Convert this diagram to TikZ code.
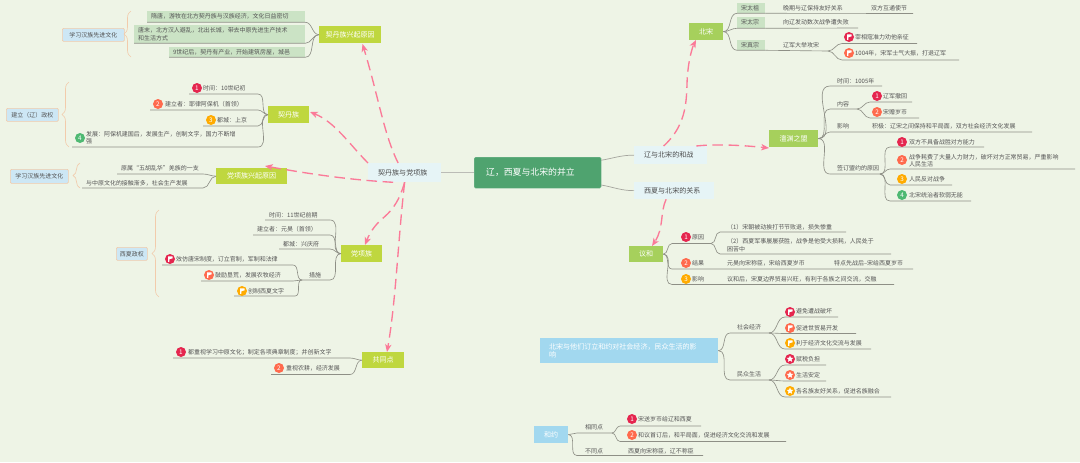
\documentclass[tikz,border=0pt]{standalone}
\usepackage{fontspec}
\setmainfont{Noto Sans CJK SC}
\usetikzlibrary{arrows.meta,decorations.pathreplacing,shapes.geometric}
\definecolor{paper}{HTML}{EEF4E6}
\definecolor{rootgreen}{HTML}{4FA36F}
\definecolor{limebar}{HTML}{BFD73F}
\definecolor{leafbar}{HTML}{A6D05C}
\definecolor{skybar}{HTML}{A2D8EF}
\definecolor{palebar}{HTML}{E6F4F6}
\definecolor{tagbar}{HTML}{CBE3C5}
\definecolor{notefill}{HTML}{CDE7F5}
\definecolor{peach}{HTML}{F2CBAB}
\definecolor{stem}{HTML}{8E8F86}
\definecolor{inkgrey}{HTML}{555555}
\definecolor{dashpink}{HTML}{FB7A98}
\definecolor{dotred}{HTML}{E5264F}
\definecolor{dotcoral}{HTML}{FF6A4D}
\definecolor{dotamber}{HTML}{FFAB00}
\definecolor{dotgreen}{HTML}{4FB973}
\def\pu{0.5mm}
\tikzset{
  leaf/.style={anchor=west,inner sep=0pt,align=left,text=inkgrey,font=\fontsize{8.5}{10.5}\selectfont},
  tagbox/.style={anchor=north west,fill=tagbar,inner xsep=4*\pu,inner ysep=0pt,align=left,text=inkgrey,font=\fontsize{8.5}{10.5}\selectfont},
  topicbox/.style={anchor=north west,inner sep=0pt,align=center,text=white,font=\fontsize{10}{12}\selectfont},
  palebox/.style={anchor=north west,fill=palebar,inner xsep=10*\pu,inner ysep=0pt,align=left,text=black!70,font=\fontsize{10}{12}\selectfont},
  notebox/.style={anchor=north west,fill=notefill,draw=peach,rounded corners=1.5pt,line width=1pt,inner sep=0pt,text=inkgrey,font=\fontsize{8.5}{10.5}\selectfont},
  numdot/.style={circle,inner sep=0pt,minimum size=10*\pu,text=white,font=\fontsize{9}{9}\selectfont},
  starmark/.style={star,star points=5,star point ratio=2.2,fill=white,inner sep=0pt,minimum size=7*\pu},
  branch/.style={draw=stem,line width=0.9pt},
  curly/.style={draw=peach,line width=0.9pt,decorate},
  dashlink/.style={draw=dashpink,line width=1.9pt,dash pattern=on 15pt off 8pt,-{Stealth[length=11pt,width=9pt,inset=3pt]}}
}
\begin{document}
\begin{tikzpicture}[x=\pu,y=-\pu]
  \fill[paper] (0,0) rectangle (1080,462);
  \useasboundingbox (0,0) rectangle (1080,462);

  % root and pale topics
  \node[anchor=north west,fill=rootgreen,draw=rootgreen!70,rounded corners=2pt,inner xsep=12*\pu,inner ysep=0pt,
    minimum width=127*\pu,minimum height=31*\pu,text width=103*\pu,text=white,align=left,font=\fontsize{12.6}{15}\selectfont]
    (root) at (474,157) {辽，西夏与北宋的并立};
  \foreach \nm/\x/\y/\w/\h/\txt in {
    qd/368/163/73/19/契丹族与党项族,
    hz/634/146/73/18/辽与北宋的和战,
    gx/634/182/80/17/西夏与北宋的关系}
  {
    \node[palebox,minimum width=\w*\pu,minimum height=\h*\pu,text width={(\w-20)*\pu}] (\nm) at (\x,\y) {\txt};
  }

  % coloured topics
  \foreach \nm/\x/\y/\w/\h/\col/\txt in {
    qdy/319/26/62/17/limebar/契丹族兴起原因,
    qdz/268/106/41/17/limebar/契丹族,
    dxy/216/168/71/16/limebar/党项族兴起原因,
    dxz/341/245/41/17/limebar/党项族,
    gtd/362/352/42/16/limebar/共同点,
    bs/689/23/34/17/leafbar/北宋,
    cy/769/130/49/17/leafbar/澶渊之盟,
    yh/629/246/34/16/leafbar/议和,
    hy/534/426/34/17/skybar/和约}
  {
    \node[topicbox,fill=\col,minimum width=\w*\pu,minimum height=\h*\pu] (\nm) at (\x,\y) {\txt};
  }
  \node[topicbox,fill=skybar,minimum width=178*\pu,minimum height=25*\pu,inner xsep=9*\pu,text width=160*\pu,align=left]
    (yx) at (540,338) {北宋与他们订立和约对社会经济，民众生活的影\\响};

  % side notes
  \foreach \nm/\x/\y/\w/\h/\txt in {
    nxa/62/28/62/13/学习汉族先进文化,
    nlz/6/108/52/13/建立（辽）政权,
    nxb/10/169/58/14/学习汉族先进文化,
    nxx/116/247/31/13/西夏政权}
  {
    \node[notebox,minimum width=\w*\pu,minimum height=\h*\pu] (\nm) at (\x,\y) {\txt};
  }
  \foreach \x/\ya/\yb in {131/11/57,69/82/147,80/163/188,159/210/297}
  {
    \draw[curly,decoration={brace,amplitude=7*\pu}] (\x,\yb) -- (\x,\ya);
  }

  % green tags
  \foreach \nm/\x/\y/\w/\h/\txt in {
    ta/147/11/158/11/隋唐，游牧在北方契丹族与汉族经济，文化日益密切,
    tb/134/25/171/18/{唐末，北方汉人避乱，北出长城，带去中原先进生产技术\\和生活方式},
    tc/169/47/136/10/9世纪后，契丹有产业，开始建筑房屋，城邑,
    sa/737/3/28/10/宋太祖,
    sb/737/17/28/11/宋太宗,
    sc/737/40/28/10/宋真宗}
  {
    \node[tagbox,minimum width=\w*\pu,minimum height=\h*\pu,text width={(\w-8)*\pu}] (\nm) at (\x,\y) {\txt};
    \coordinate (\nm-a) at (\nm.south west);
    \coordinate (\nm-b) at (\nm.south east);
  }

  % leaves: name, line from, line to, line y, text x, text y, text
  \foreach \nm/\xa/\xb/\yb/\xt/\yt/\txt in {
    qa/189/258/94/203/88/时间：10世纪初,
    qb/150/258/110/165/104/建立者：耶律阿保机（首领）,
    qc/203/258/126/217/120/都城：上京,
    qe/72/258/147/86/137.5/{发展：阿保机建国后，发展生产，创制文字，国力不断增\\强},
    ya/117/203/174/121/168.5/原属“五胡乱华”羌族的一支,
    yb/82/203/188/86/183/与中原文化的接触渐多，社会生产发展,
    da/265/330/220/269/215.5/时间：11世纪前期,
    db/253/330/235/257/229.5/建立者：元昊（首领）,
    dc/279/330/249/283/244/都城：兴庆府,
    dd/302/330/280/309/275/措施,
    de/162/293/265/176/259/效仿唐宋制度，订立官制，军制和法律,
    df/201/293/281/215/275/鼓励垦荒，发展农牧经济,
    dg/234/295/296/248/291/创制西夏文字,
    ga/173/350/358/188/352/都重视学习中原文化；制定各项典章制度；并创新文字,
    gb/271/350/374.5/286/368/重视农耕，经济发展,
    ba/737/913/13.5/783/8/晚期与辽保持友好关系,
    bb/737/858/28/783/22/向辽发动数次战争遭失败,
    bc/737/828/51/783/45/辽军大举攻宋,
    bd/842/917/43.5/855/37/宰相寇准力劝他亲征,
    be/842/959/60/855/53.5/1004年，宋军士气大振，打退辽军,
    ca/830/882/86/837/81/时间：1005年,
    cb/830/857/109/837/104/内容,
    cc/870/912/102/883/96/辽军撤回,
    cd/870/919/118/883/112/宋赠岁币,
    ce/830/1032/132/837/126/影响,
    cf/830/880/174/837/168/签订盟约的原因,
    cg/890/984/147/909/142/双方不具备战胜对方能力,
    ch/890/1075/169/909/160.5/{战争耗费了大量人力财力，破坏对方正常贸易，严重影响\\人民生活},
    ci/890/952/185/909/179/人民反对战争,
    cj/890/971/201/909/195/北宋统治者软弱无能,
    ka/672/711/243.5/692/237.5/原因,
    kb/720/846/232/727/227/（1）宋朝被动挨打节节败退，损失惨重,
    kc/720/891/254/727/245/{（2）西夏军事屡屡获胜，战争是他受大损耗，人民处于\\困苦中},
    kd/672/913/269/692/263/结果,
    ke/672/894/284.5/692/279/影响,
    ma/730/769/333/737/327/社会经济,
    mb/730/769/380/737/374/民众生活,
    mc/785/838/317/796/311.5/避免遭战破坏,
    md/785/856/333.5/796/328/促进世贸易开发,
    me/785/871/349/796/343/利于经济文化交流与发展,
    mf/785/826/365/796/359/赋税负担,
    mg/785/826/381/796/375/生活安定,
    mh/785/891/397/796/391/各名族友好关系，促进名族融合,
    ha/577/612/433/585/427/相同点,
    hb/620/701/426/638/419/宋送岁币给辽和西夏,
    hc/620/786/441.5/638/435/和议首订后，和平局面，促进经济文化交流和发展,
    hd/577/703/455.5/585/451/不同点}
  {
    \coordinate (\nm-a) at (\xa,\yb);
    \coordinate (\nm-b) at (\xb,\yb);
    \node[leaf] (\nm-t) at (\xt,\yt) {\txt};
  }

  % extra texts on a line
  \foreach \nm/\x/\y/\txt in {
    xa/871/8/双方互通使节,
    xb/872/126.5/积极：辽宋之间保持和平局面，双方社会经济文化发展,
    xc/727/263/元昊向宋称臣，宋给西夏岁币,
    xd/834/263/特点先战后–宋给西夏岁币,
    xe/727/279/议和后，宋夏边界贸易兴旺，有利于各族之间交流，交融,
    xf/628/451/西夏向宋称臣，辽不称臣}
  {
    \node[leaf] (\nm) at (\x,\y) {\txt};
  }

  % branches to the left
  \foreach \p/\c in {
    qdy.west/ta,qdy.west/tb,qdy.west/tc,
    qdz.west/qa,qdz.west/qb,qdz.west/qc,qdz.west/qe,
    dxy.west/ya,dxy.west/yb,
    dxz.west/da,dxz.west/db,dxz.west/dc,dxz.west/dd,
    dd-a/de,dd-a/df,dd-a/dg,
    gtd.west/ga,gtd.west/gb}
  {
    \draw[branch] (\p) to[out=180,in=0] (\c-b) -- (\c-a);
  }
  % branches to the right
  \foreach \p/\c in {
    bs.east/sa,bs.east/sb,bs.east/sc,
    bc-b/bd,bc-b/be,
    cy.east/ca,cy.east/cb,cy.east/ce,cy.east/cf,
    cb-b/cc,cb-b/cd,
    cf-b/cg,cf-b/ch,cf-b/ci,cf-b/cj,
    yh.east/ka,yh.east/kd,yh.east/ke,
    ka-b/kb,ka-b/kc,
    yx.east/ma,yx.east/mb,
    ma-b/mc,ma-b/md,ma-b/me,
    mb-b/mf,mb-b/mg,mb-b/mh,
    hy.east/ha,hy.east/hd,
    ha-b/hb,ha-b/hc}
  {
    \draw[branch] (\p) to[out=0,in=180] (\c-a) -- (\c-b);
  }
  \draw[branch] (sa-b) -- (ba-b);
  \draw[branch] (sb-b) -- (bb-b);
  \draw[branch] (sc-b) -- (bc-b);
  \draw[draw=stem!60,line width=2pt] (root.west) -- (qd.east);
  \draw[draw=stem!80,line width=1pt] (root.11) to[out=10,in=180] (hz.west);
  \draw[draw=stem!80,line width=1pt] (root.-11) to[out=-10,in=180] (gx.west);

  % number dots
  \foreach \nm/\x/\y/\col/\n in {
    na/197/88/dotred/1,nb/158/104/dotcoral/2,nc/211/120/dotamber/3,nd/80/138/dotgreen/4,
    ne/181/352/dotred/1,nf/279/368/dotcoral/2,
    ng/877/96/dotred/1,nh/877/112/dotcoral/2,
    ni/902/142/dotred/1,nj/902/160/dotcoral/2,nk/902/179/dotamber/3,nl/902/195/dotgreen/4,
    nm/686/237/dotred/1,nn/686/263/dotcoral/2,no/686/279/dotamber/3,
    np/632/419/dotred/1,nq/632/435/dotcoral/2}
  {
    \node[numdot,fill=\col] (\nm) at (\x,\y) {\n};
  }
  % flag dots
  \foreach \nm/\x/\y/\col in {
    fa/170/259/dotred,fb/209/275/dotcoral,fc/242/291/dotamber,
    fd/849/37/dotred,fe/849/53/dotcoral,
    ff/790/312/dotred,fg/790/328/dotcoral,fh/790/343/dotamber}
  {
    \node[numdot,fill=\col] (\nm) at (\x,\y) {};
    \fill[white,rounded corners=0.3pt] (\x-2,\y+2.8) -- (\x-2,\y-2.6) -- (\x+2.6,\y-2.6) -- (\x+2.6,\y-0.6) -- (\x-0.6,\y+0.2) -- (\x-0.6,\y+2.8) -- cycle;
  }
  % star dots
  \foreach \nm/\x/\y/\col in {
    sd/790/359/dotred,se/790/375/dotcoral,sf/790/391/dotamber}
  {
    \node[numdot,fill=\col] (\nm) at (\x,\y) {};
    \node[starmark] (\nm-s) at (\x,\y) {};
  }

  % dashed arrows
  \draw[dashlink] ([xshift=-6.5*\pu]qd.north) .. controls (384,135) and (378,95) .. (362.5,44);
  \draw[dashlink] (qd.north west) .. controls (350,145) and (335,122) .. (310,112);
  \draw[dashlink] ([xshift=-11.5*\pu]qd.south) .. controls (350,180) and (310,174) .. (265,166);
  \draw[dashlink] (qd.south) .. controls (398,205) and (390,212) .. (382,219) .. controls (376,224) and (370,232) .. (365,245);
  \draw[dashlink] (qd.south) .. controls (398,240) and (396,300) .. (387,352);
  \draw[dashlink] ([xshift=-7*\pu]hz.north) .. controls (692,120) and (685,90) .. (688,70) .. controls (689,60) and (692,48) .. (696,40);
  \draw[dashlink] ([xshift=-11*\pu]hz.north east) .. controls (715,144) and (740,145) .. (769,148);
  \draw[dashlink] ([xshift=-8*\pu]gx.south) .. controls (660,212) and (664,228) .. (652,246);
\end{tikzpicture}
\end{document}
